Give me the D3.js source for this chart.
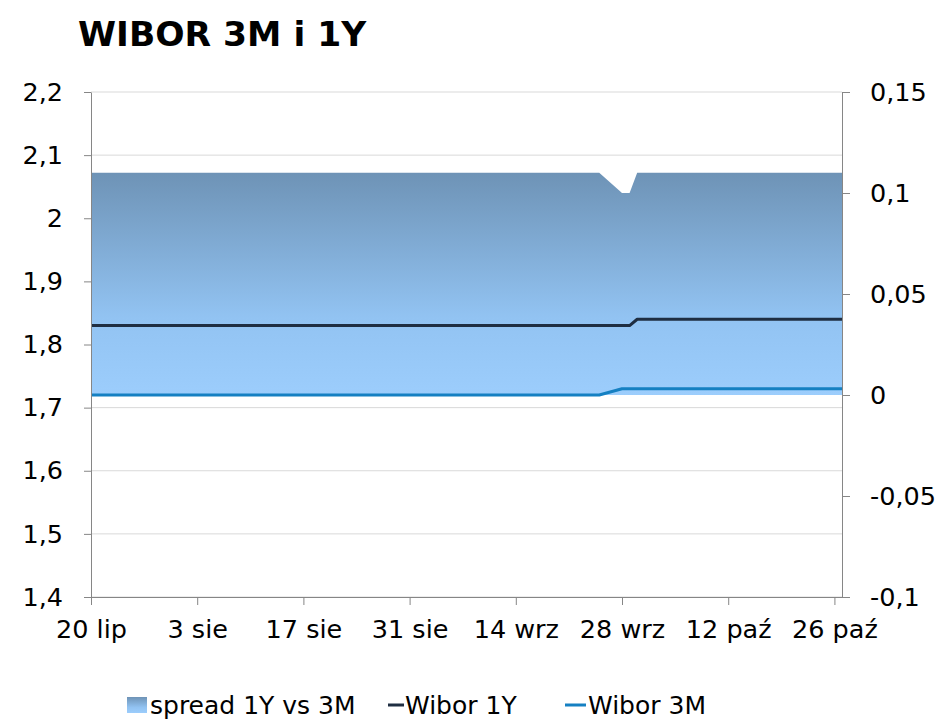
<!DOCTYPE html>
<html>
<head>
<meta charset="utf-8">
<script src="https://cdn.jsdelivr.net/npm/d3@7"></script>
<style>
  body { margin: 0; background: #fff; }
  svg text { font-family: Verdana, "DejaVu Sans", sans-serif; fill: #000; }
</style>
</head>
<body>
<svg id="chart" width="947" height="728"></svg>
<script>
// data (2015)
var dates = ['2015-07-20', '2015-09-25', '2015-09-28', '2015-09-29', '2015-09-30', '2015-10-27'];
var wibor1Y = [1.83, 1.83, 1.83, 1.83, 1.84, 1.84];
var wibor3M = [1.72, 1.72, 1.73, 1.73, 1.73, 1.73];
var spread = [0.11, 0.11, 0.10, 0.10, 0.11, 0.11];

var tickDates = ['2015-07-20', '2015-08-03', '2015-08-17', '2015-08-31', '2015-09-14', '2015-09-28', '2015-10-12', '2015-10-26'];
var tickLabels = ['20 lip', '3 sie', '17 sie', '31 sie', '14 wrz', '28 wrz', '12 paź', '26 paź'];
var leftTicks = [1.4, 1.5, 1.6, 1.7, 1.8, 1.9, 2.0, 2.1, 2.2];
var rightTicks = [-0.1, -0.05, 0, 0.05, 0.1, 0.15];

var svg = d3.select('#chart');
var margin = {top: 92, right: 105, bottom: 131, left: 91};
var width = 947 - margin.left - margin.right,
    height = 728 - margin.top - margin.bottom;
var g = svg.append('g').attr('transform', 'translate(' + margin.left + ',' + margin.top + ')');

var parse = d3.utcParse('%Y-%m-%d');
var pl = d3.formatLocale({decimal: ',', thousands: ' ', grouping: [3], currency: ['', ' zł'], minus: '-'});
var fmt = pl.format('~g');

var rows = dates.map(function (d, i) {
  return {date: parse(d), y1: wibor1Y[i], m3: wibor3M[i], sp: spread[i]};
});

var x = d3.scaleUtc().domain([parse('2015-07-20'), parse('2015-10-27')]).range([0, width]);
var y = d3.scaleLinear().domain([1.4, 2.2]).range([height, 0]);
var yR = d3.scaleLinear().domain([-0.1, 0.15]).range([height, 0]);

// gradient for the spread area
var defs = svg.append('defs');
var grad = defs.append('linearGradient').attr('id', 'spreadGrad')
  .attr('x1', 0).attr('x2', 0).attr('y1', 0).attr('y2', 1);
grad.append('stop').attr('offset', '0%').attr('stop-color', '#6e93b6');
grad.append('stop').attr('offset', '65%').attr('stop-color', '#92c3f2');
grad.append('stop').attr('offset', '100%').attr('stop-color', '#9ccdfc');

// grid
g.append('g').attr('class', 'grid')
  .selectAll('line').data(leftTicks).enter().append('line')
  .attr('x1', 0).attr('x2', width)
  .attr('y1', function (d) { return y(d) }).attr('y2', function (d) { return y(d) })
  .attr('stroke', '#d9d9d9').attr('stroke-width', 1);

// spread area (right axis)
var area = d3.area()
  .x(function (d) { return x(d.date) })
  .y0(function () { return yR(0) })
  .y1(function (d) { return yR(d.sp) });
g.append('path').datum(rows)
  .attr('fill', 'url(#spreadGrad)')
  .attr('d', area);

var line1Y = d3.line().x(function (d) { return x(d.date) }).y(function (d) { return y(d.y1) });
var line3M = d3.line().x(function (d) { return x(d.date) }).y(function (d) { return y(d.m3) });

g.append('path').datum(rows)
  .attr('fill', 'none').attr('stroke', '#1f2e42').attr('stroke-width', 3)
  .attr('stroke-linejoin', 'round')
  .attr('d', line1Y);
g.append('path').datum(rows)
  .attr('fill', 'none').attr('stroke', '#1580c2').attr('stroke-width', 3)
  .attr('stroke-linejoin', 'round')
  .attr('d', line3M);

// axes
function styleAxis(sel) {
  sel.selectAll('.domain').attr('stroke', '#868686');
  sel.selectAll('.tick line').attr('stroke', '#868686');
  sel.selectAll('text').attr('font-size', 25.5).attr('fill', '#000')
    .style('font-family', 'Verdana, "DejaVu Sans", sans-serif');
}

g.append('g')
  .call(d3.axisLeft(y).tickValues(leftTicks).tickFormat(fmt).tickSize(7).tickSizeOuter(0).tickPadding(21))
  .call(styleAxis);

g.append('g').attr('transform', 'translate(' + width + ',0)')
  .call(d3.axisRight(yR).tickValues(rightTicks).tickFormat(fmt).tickSize(8).tickSizeOuter(0).tickPadding(20))
  .call(styleAxis);

g.append('g').attr('transform', 'translate(0,' + height + ')')
  .call(d3.axisBottom(x).tickValues(tickDates.map(parse))
    .tickFormat(function (d, i) { return tickLabels[i] })
    .tickSize(8).tickSizeOuter(0).tickPadding(15))
  .call(styleAxis);

// title
svg.append('text')
  .attr('x', 78).attr('y', 46)
  .attr('font-size', 34.5).attr('font-weight', 'bold')
  .text('WIBOR 3M i 1Y');

// legend
var lg = svg.append('g').attr('transform', 'translate(0,705)');
lg.append('rect').attr('x', 127).attr('y', -8).attr('width', 20).attr('height', 16)
  .attr('fill', 'url(#spreadGrad)');
lg.append('text').attr('x', 150).attr('y', 9).attr('font-size', 25).text('spread 1Y vs 3M');
lg.append('line').attr('x1', 388).attr('x2', 404).attr('y1', 0).attr('y2', 0)
  .attr('stroke', '#1f2e42').attr('stroke-width', 3);
lg.append('text').attr('x', 405).attr('y', 9).attr('font-size', 25).text('Wibor 1Y');
lg.append('line').attr('x1', 565).attr('x2', 586).attr('y1', 0).attr('y2', 0)
  .attr('stroke', '#1580c2').attr('stroke-width', 3);
lg.append('text').attr('x', 588).attr('y', 9).attr('font-size', 25).text('Wibor 3M');
</script>
</body>
</html>
